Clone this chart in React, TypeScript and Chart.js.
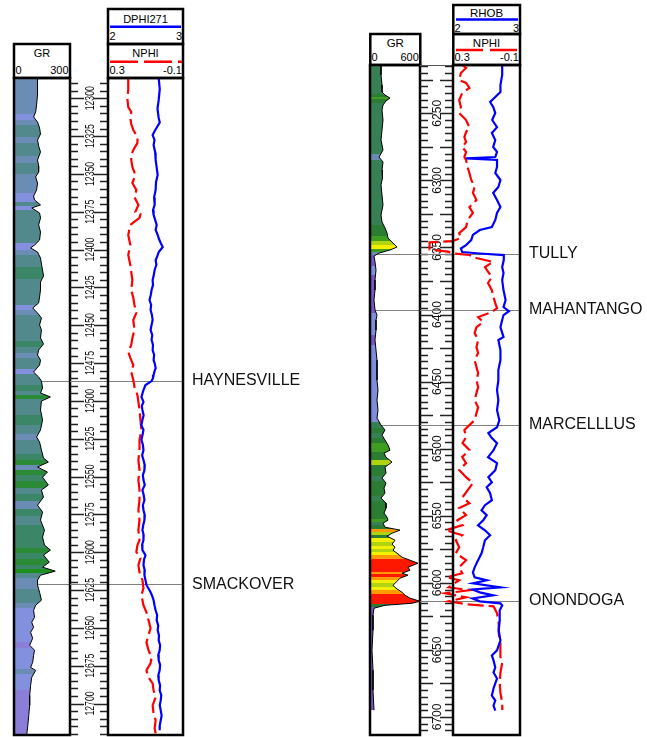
import React, { useEffect, useRef } from 'react';
import { Chart, registerables } from 'chart.js';

Chart.register(...registerables);

const FONT = '"Liberation Sans", Arial, Helvetica, sans-serif';

// ---------------- LEFT WELL DATA ----------------
const L_GR_DEPTH = [
  12286.6, 12297.8, 12304.4, 12309.0, 12312.4, 12315.7, 12319.6, 12323.6, 12327.6, 12331.5,
  12335.5, 12340.8, 12344.7, 12348.7, 12352.0, 12356.0, 12360.6, 12364.6, 12367.2, 12370.5,
  12372.5, 12375.8, 12379.1, 12383.7, 12388.4, 12393.7, 12397.0, 12398.9, 12401.6, 12405.6,
  12409.5, 12413.5, 12417.5, 12421.4, 12426.7, 12431.3, 12435.3, 12438.6, 12441.9, 12445.2,
  12449.8, 12453.1, 12458.4, 12462.4, 12466.4, 12469.7, 12473.0, 12476.3, 12480.9, 12484.2,
  12486.9, 12491.5, 12494.8, 12497.4, 12500.1, 12506.0, 12512.6, 12519.2, 12523.9, 12527.2,
  12532.5, 12537.8, 12540.4, 12543.7, 12547.0, 12550.4, 12555.6, 12558.9, 12563.6, 12568.9,
  12573.5, 12578.8, 12585.4, 12590.0, 12595.3, 12598.6, 12601.9, 12606.6, 12609.9, 12612.5,
  12615.2, 12618.5, 12621.8, 12626.5, 12631.7, 12635.0, 12638.4, 12643.0, 12646.3, 12649.6,
  12652.9, 12656.9, 12661.5, 12664.8, 12668.1, 12672.8, 12676.1, 12678.1, 12682.7, 12688.0,
  12694.6, 12701.2, 12707.8, 12714.4, 12720.8,
];
const L_GR = [
  126, 126, 121, 116, 105, 126, 137, 142, 126, 132,
  142, 126, 132, 132, 116, 126, 121, 105, 110, 142,
  95, 137, 142, 132, 142, 137, 110, 89, 126, 142,
  147, 153, 158, 142, 142, 137, 132, 100, 126, 147,
  137, 147, 142, 158, 132, 126, 142, 137, 105, 132,
  147, 153, 142, 195, 147, 142, 153, 142, 121, 137,
  147, 158, 184, 126, 179, 153, 184, 147, 158, 126,
  153, 142, 163, 153, 163, 195, 158, 189, 153, 221,
  142, 126, 126, 137, 147, 116, 105, 110, 95, 105,
  89, 100, 84, 110, 105, 100, 89, 116, 95, 89,
  84, 84, 79, 74, 68,
];

const L_DPHI_DEPTH = [
  12286.6, 12294.0, 12301.1, 12307.0, 12313.0, 12316.0, 12318.3, 12321.0, 12324.3, 12327.5,
  12330.9, 12336.0, 12340.8, 12346.0, 12350.7, 12355.5, 12360.6, 12365.5, 12370.5, 12374.0,
  12377.1, 12380.5, 12383.7, 12387.0, 12390.3, 12393.0, 12395.6, 12398.3, 12401.6, 12404.0,
  12406.9, 12410.0, 12413.5, 12417.0, 12420.1, 12423.5, 12426.7, 12430.0, 12433.3, 12436.5,
  12439.9, 12443.0, 12446.5, 12450.0, 12453.1, 12456.5, 12459.7, 12463.0, 12466.4, 12469.5,
  12473.0, 12475.5, 12478.3, 12480.5, 12482.9, 12485.0, 12486.9, 12489.5, 12492.8, 12495.0,
  12497.4, 12500.7, 12503.5, 12506.0, 12509.5, 12512.6, 12516.0, 12519.2, 12522.5, 12525.8,
  12529.0, 12532.5, 12536.0, 12539.1, 12542.5, 12545.7, 12549.0, 12552.3, 12555.5, 12558.9,
  12562.0, 12565.5, 12569.0, 12572.1, 12575.5, 12578.8, 12582.0, 12585.4, 12588.5, 12592.0,
  12595.0, 12598.6, 12601.9, 12605.0, 12608.5, 12612.0, 12615.2, 12618.5, 12621.8, 12624.0,
  12626.5, 12629.0, 12631.7, 12635.0, 12638.4, 12641.5, 12645.0, 12648.5, 12651.6, 12655.0,
  12658.2, 12661.5, 12664.8, 12668.0, 12671.4, 12674.5, 12678.1, 12681.5, 12684.7, 12688.0,
  12691.3, 12694.5, 12697.9, 12701.0, 12704.5, 12708.0, 12711.1, 12714.5, 12717.7,
];
const L_DPHI = [
  2.676, 2.69, 2.676, 2.66, 2.676, 2.69, 2.662, 2.63, 2.595, 2.62,
  2.608, 2.63, 2.635, 2.65, 2.662, 2.64, 2.635, 2.615, 2.622, 2.6,
  2.608, 2.63, 2.649, 2.635, 2.662, 2.68, 2.703, 2.73, 2.676, 2.66,
  2.635, 2.645, 2.622, 2.61, 2.595, 2.6, 2.581, 2.57, 2.554, 2.575,
  2.568, 2.585, 2.595, 2.58, 2.568, 2.59, 2.581, 2.6, 2.595, 2.615,
  2.608, 2.625, 2.635, 2.62, 2.608, 2.6, 2.581, 2.5, 2.473, 2.46,
  2.446, 2.473, 2.45, 2.459, 2.475, 2.459, 2.445, 2.473, 2.46, 2.446,
  2.465, 2.473, 2.455, 2.473, 2.49, 2.486, 2.465, 2.473, 2.49, 2.459,
  2.475, 2.486, 2.465, 2.473, 2.49, 2.486, 2.47, 2.459, 2.475, 2.473,
  2.455, 2.459, 2.5, 2.48, 2.473, 2.49, 2.486, 2.5, 2.514, 2.54,
  2.568, 2.59, 2.608, 2.62, 2.635, 2.655, 2.649, 2.67, 2.662, 2.68,
  2.676, 2.695, 2.689, 2.67, 2.676, 2.695, 2.689, 2.67, 2.676, 2.695,
  2.689, 2.71, 2.703, 2.69, 2.703, 2.715, 2.703, 2.69, 2.689,
];

const L_NPHI_DEPTH = [
  12286.6, 12294.5, 12299.8, 12305.8, 12309.1, 12313.0, 12317.0, 12321.0, 12325.6, 12329.5,
  12334.2, 12337.5, 12340.8, 12345.4, 12350.7, 12356.0, 12360.6, 12365.2, 12370.5, 12375.1,
  12376.5, 12379.1, 12383.7, 12390.3, 12397.0, 12403.6, 12410.2, 12414.8, 12420.1, 12426.7,
  12432.0, 12436.6, 12441.9, 12446.5, 12453.1, 12458.4, 12463.0, 12467.6, 12471.6, 12476.3,
  12480.9, 12486.2, 12490.8, 12496.1, 12500.7, 12506.0, 12512.6, 12519.2, 12525.8, 12532.5,
  12539.1, 12545.7, 12552.3, 12558.9, 12565.5, 12572.1, 12578.8, 12585.4, 12592.0, 12595.3,
  12599.9, 12603.9, 12608.5, 12613.2, 12618.5, 12623.8, 12628.4, 12631.7, 12635.0, 12639.7,
  12645.0, 12650.3, 12654.9, 12659.6, 12664.8, 12669.5, 12673.4, 12678.1, 12682.7, 12686.7,
  12691.3, 12695.9, 12701.2, 12706.5, 12711.1, 12716.4, 12719.7,
];
const L_NPHI = [
  0.192, 0.192, 0.197, 0.192, 0.176, 0.181, 0.176, 0.165, 0.143, 0.143,
  0.165, 0.176, 0.176, 0.17, 0.154, 0.17, 0.149, 0.159, 0.138, 0.154,
  0.127, 0.132, 0.181, 0.192, 0.181, 0.192, 0.181, 0.176, 0.17, 0.176,
  0.165, 0.159, 0.149, 0.165, 0.159, 0.17, 0.176, 0.192, 0.181, 0.165,
  0.176, 0.165, 0.159, 0.143, 0.138, 0.132, 0.127, 0.122, 0.132, 0.132,
  0.138, 0.132, 0.138, 0.132, 0.132, 0.138, 0.132, 0.138, 0.132, 0.143,
  0.149, 0.127, 0.138, 0.132, 0.116, 0.111, 0.122, 0.116, 0.111, 0.095,
  0.084, 0.073, 0.084, 0.095, 0.084, 0.068, 0.073, 0.095, 0.084, 0.062,
  0.057, 0.046, 0.062, 0.057, 0.046, 0.051, 0.046,
];

const L_DEPTH_LABELS = [12300, 12325, 12350, 12375, 12400, 12425, 12450, 12475, 12500, 12525, 12550, 12575, 12600, 12625, 12650, 12675, 12700];
const L_TOP_NAMES = ['HAYNESVILLE', 'SMACKOVER'];
const L_TOP_DEPTHS = [12486.9, 12621.2];

// ---------------- RIGHT WELL DATA ----------------
const R_GR_DEPTH = [
  6214.0, 6221.4, 6228.9, 6234.1, 6236.4, 6238.6, 6240.8, 6243.8, 6247.5, 6255.0,
  6262.4, 6269.9, 6277.4, 6282.6, 6286.3, 6292.3, 6298.2, 6303.4, 6310.9, 6318.4,
  6325.8, 6331.0, 6335.5, 6339.2, 6343.0, 6346.7, 6349.7, 6351.9, 6354.2, 6356.4,
  6360.8, 6366.8, 6374.2, 6381.7, 6389.2, 6396.6, 6400.4, 6404.1, 6411.6, 6419.0,
  6426.5, 6434.0, 6441.4, 6448.9, 6456.3, 6463.8, 6471.3, 6477.2, 6482.4, 6486.1,
  6489.9, 6493.6, 6497.3, 6501.1, 6503.3, 6506.3, 6510.0, 6513.7, 6518.2, 6521.9,
  6525.6, 6529.4, 6533.1, 6536.8, 6540.6, 6544.3, 6548.0, 6551.0, 6553.3, 6555.5,
  6558.5, 6560.7, 6563.0, 6565.2, 6568.2, 6571.2, 6573.4, 6575.7, 6577.9, 6580.9,
  6583.1, 6585.4, 6588.3, 6590.6, 6592.8, 6594.3, 6596.5, 6598.8, 6601.8, 6604.0,
  6607.0, 6609.2, 6611.4, 6613.7, 6615.2, 6616.7, 6618.9, 6624.1, 6635.3, 6650.2,
  6665.1, 6680.0, 6694.9,
];
const R_GR = [
  132, 132, 144, 144, 180, 240, 192, 156, 144, 156,
  144, 132, 156, 108, 156, 144, 150, 132, 144, 156,
  132, 144, 180, 204, 216, 276, 324, 240, 108, 48,
  60, 72, 60, 60, 48, 60, 84, 72, 72, 60,
  72, 84, 84, 84, 96, 84, 96, 84, 132, 180,
  144, 180, 216, 240, 168, 192, 264, 180, 192, 144,
  192, 168, 180, 132, 192, 192, 168, 204, 216, 156,
  180, 360, 264, 204, 300, 264, 300, 276, 324, 384,
  480, 576, 456, 480, 384, 456, 360, 324, 276, 312,
  384, 420, 480, 600, 504, 180, 48, 36, 36, 24,
  36, 36, 48,
];

const R_RHOB_DEPTH = [
  6214.0, 6221.4, 6228.9, 6234.1, 6237.8, 6241.6, 6245.3, 6249.8, 6255.0, 6260.3,
  6264.7, 6269.9, 6275.1, 6278.8, 6282.6, 6283.6, 6284.8, 6290.0, 6294.5, 6299.7,
  6304.9, 6309.4, 6314.6, 6319.9, 6324.3, 6329.5, 6334.8, 6337.0, 6340.7, 6344.5,
  6348.2, 6350.8, 6353.4, 6354.5, 6355.7, 6359.4, 6364.6, 6369.1, 6374.3, 6381.8,
  6389.2, 6394.5, 6397.5, 6400.4, 6404.1, 6409.4, 6416.8, 6419.0, 6426.5, 6434.0,
  6441.4, 6448.9, 6456.3, 6463.8, 6471.3, 6478.7, 6484.0, 6488.4, 6492.1, 6495.9,
  6501.1, 6506.3, 6510.8, 6516.0, 6521.2, 6525.0, 6528.7, 6533.2, 6538.4, 6542.1,
  6545.9, 6549.6, 6553.3, 6557.1, 6560.8, 6564.5, 6568.2, 6573.5, 6578.0, 6583.2,
  6588.4, 6592.2, 6595.9, 6598.1, 6600.4, 6603.4, 6604.9, 6607.1, 6609.3, 6611.6,
  6613.8, 6615.3, 6616.8, 6620.5, 6628.0, 6635.4, 6642.9, 6650.3, 6654.1, 6657.8,
  6663.1, 6666.8, 6671.3, 6675.0, 6678.7, 6684.0, 6687.7, 6691.4, 6695.2,
];
const R_RHOB = [
  2.734, 2.734, 2.708, 2.708, 2.631, 2.554, 2.6, 2.631, 2.585, 2.657,
  2.58, 2.631, 2.6, 2.657, 2.631, 2.195, 2.657, 2.657, 2.631, 2.708,
  2.677, 2.6, 2.657, 2.708, 2.657, 2.631, 2.58, 2.4, 2.297, 2.272,
  2.195, 2.118, 2.138, 2.4, 2.758, 2.758, 2.734, 2.754, 2.734, 2.754,
  2.785, 2.754, 2.835, 2.754, 2.734, 2.708, 2.754, 2.677, 2.708, 2.708,
  2.677, 2.677, 2.657, 2.677, 2.657, 2.692, 2.657, 2.528, 2.58, 2.657,
  2.605, 2.523, 2.657, 2.631, 2.528, 2.58, 2.503, 2.554, 2.58, 2.477,
  2.426, 2.503, 2.451, 2.374, 2.477, 2.554, 2.477, 2.451, 2.426, 2.374,
  2.323, 2.297, 2.323, 2.503, 2.297, 2.708, 2.292, 2.4, 2.6, 2.292,
  2.4, 2.708, 2.734, 2.697, 2.697, 2.682, 2.708, 2.657, 2.58, 2.605,
  2.631, 2.605, 2.657, 2.631, 2.605, 2.58, 2.631, 2.605, 2.631,
];

const R_NPHI_DEPTH = [
  6214.0, 6216.2, 6220.0, 6225.2, 6227.4, 6231.1, 6234.9, 6240.1, 6245.3, 6249.8,
  6255.0, 6257.3, 6260.3, 6264.0, 6267.7, 6271.5, 6275.1, 6278.8, 6282.6, 6284.8,
  6290.0, 6294.5, 6299.7, 6304.9, 6309.4, 6314.6, 6319.9, 6324.3, 6329.5, 6334.8,
  6339.3, 6343.0, 6345.2, 6346.2, 6351.6, 6353.1, 6354.5, 6355.6, 6357.9, 6360.8,
  6364.6, 6368.3, 6372.1, 6376.5, 6381.8, 6387.0, 6391.5, 6395.2, 6398.2, 6401.9,
  6405.6, 6409.4, 6413.8, 6419.0, 6424.3, 6428.7, 6434.0, 6439.0, 6443.7, 6448.9,
  6454.1, 6458.6, 6463.8, 6469.1, 6473.5, 6478.7, 6482.4, 6486.1, 6491.3, 6495.8,
  6501.0, 6506.2, 6510.7, 6515.9, 6521.2, 6525.6, 6530.9, 6536.1, 6540.6, 6544.3,
  6549.5, 6553.3, 6557.0, 6560.7, 6564.5, 6568.2, 6573.4, 6577.9, 6583.1, 6588.4,
  6592.8, 6595.8, 6598.0, 6603.3, 6605.5, 6607.8, 6610.8, 6613.7, 6616.0, 6617.5,
  6622.7, 6630.2, 6637.6, 6645.1, 6655.1, 6659.6, 6667.0, 6674.5, 6682.0, 6689.4,
  6694.7,
];
const R_NPHI = [
  0.245, 0.222, 0.253, 0.263, 0.222, 0.202, 0.245, 0.263, 0.253, 0.263,
  0.222, 0.214, 0.202, 0.222, 0.232, 0.222, 0.245, 0.222, 0.232, 0.222,
  0.214, 0.202, 0.191, 0.171, 0.181, 0.16, 0.202, 0.181, 0.212, 0.222,
  0.263, 0.253, 0.3, 0.44, 0.44, 0.33, 0.29, 0.202, 0.16, 0.06,
  0.109, 0.089, 0.068, 0.091, 0.068, 0.058, 0.048, 0.037, 0.068, 0.15,
  0.12, 0.16, 0.171, 0.15, 0.16, 0.15, 0.171, 0.16, 0.15, 0.16,
  0.15, 0.16, 0.171, 0.15, 0.16, 0.171, 0.202, 0.232, 0.222, 0.243,
  0.202, 0.245, 0.222, 0.263, 0.222, 0.181, 0.212, 0.243, 0.202, 0.263,
  0.222, 0.274, 0.243, 0.343, 0.245, 0.283, 0.263, 0.283, 0.222, 0.263,
  0.245, 0.337, 0.263, 0.325, 0.202, 0.345, 0.222, 0.325, 0.22, 0.058,
  0.037, 0.027, 0.027, 0.017, 0.017, 0.006, 0.017, 0.021, 0.017, 0.006,
  0.006,
];

const R_DEPTH_LABELS = [6250, 6300, 6350, 6400, 6450, 6500, 6550, 6600, 6650, 6700];
const R_TOP_NAMES = ['TULLY', 'MAHANTANGO', 'MARCELLLUS', 'ONONDOGA'];
const R_TOP_DEPTHS = [6354.9, 6396.6, 6482.3, 6613.5];

// ---------------- STYLES ----------------
const L_STOPS: [number, string][] = [
  [85, '#8a7ed8'], [115, '#8290de'], [132, '#6b8db4'], [150, '#52898c'],
  [170, '#3b8666'], [205, '#2b8a35'], [Infinity, '#1d8f1d'],
];
const R_STOPS: [number, string][] = [
  [62, '#7858c8'], [100, '#7d8ede'], [130, '#6a8cb0'], [165, '#377f55'],
  [215, '#2a7d32'], [250, '#3f9e22'], [290, '#b0d410'], [340, '#f4f000'],
  [400, '#ff9a00'], [Infinity, '#ff1800'],
];

const LEFT = {
  dMin: 12286.6, dMax: 12720.8,
  grDepth: L_GR_DEPTH, gr: L_GR, grMax: 300, stops: L_STOPS,
  aDepth: L_DPHI_DEPTH, a: L_DPHI, bDepth: L_NPHI_DEPTH, b: L_NPHI,
  labels: L_DEPTH_LABELS, minorStep: 5, majorStep: 25,
  depthFont: 13.5, squash: 0.64, minorLen: 8, majorLen: 14,
  topNames: L_TOP_NAMES, topDepths: L_TOP_DEPTHS, topLine: false,
  grCanvas: { left: 12, top: 76, width: 60, height: 661, pad: { left: 2, right: 2, top: 2, bottom: 2 } },
  logCanvas: { left: 70, top: 76, width: 260, height: 661, pad: { left: 38, right: 147, top: 2, bottom: 2 } },
};
const RIGHT = {
  dMin: 6214.0, dMax: 6713.4,
  grDepth: R_GR_DEPTH, gr: R_GR, grMax: 600, stops: R_STOPS,
  aDepth: R_RHOB_DEPTH, a: R_RHOB, bDepth: R_NPHI_DEPTH, b: R_NPHI,
  labels: R_DEPTH_LABELS, minorStep: 5, majorStep: 25,
  depthFont: 12, squash: 1, minorLen: 8, majorLen: 13,
  topNames: R_TOP_NAMES, topDepths: R_TOP_DEPTHS, topLine: true,
  grCanvas: { left: 368, top: 63, width: 54, height: 674, pad: { left: 2, right: 2, top: 2, bottom: 2 } },
  logCanvas: { left: 420, top: 63, width: 227, height: 674, pad: { left: 33, right: 127, top: 2, bottom: 2 } },
};

function colorFor(v: number, stops: [number, string][]) {
  for (const [lim, c] of stops) if (v < lim) return c;
  return stops[stops.length - 1][1];
}

function bandGradient(chart: any, depths: number[], values: number[], stops: [number, string][]) {
  const { ctx, chartArea, scales } = chart;
  if (!chartArea || !scales || !scales.y) return 'rgba(0,0,0,0)';
  const ys = scales.y;
  const top = chartArea.top;
  const h = chartArea.bottom - chartArea.top;
  const g = ctx.createLinearGradient(0, top, 0, chartArea.bottom);
  const off = (d: number) => Math.min(1, Math.max(0, (ys.getPixelForValue(d) - top) / h));
  const n = depths.length;
  let last = 0;
  for (let i = 0; i < n; i++) {
    const d0 = i === 0 ? depths[0] : (depths[i - 1] + depths[i]) / 2;
    const d1 = i === n - 1 ? depths[n - 1] : (depths[i] + depths[i + 1]) / 2;
    const c = colorFor(values[i], stops);
    const o0 = Math.max(last, off(d0));
    const o1 = Math.max(o0, off(d1));
    g.addColorStop(o0, c);
    g.addColorStop(o1, c);
    last = o1;
  }
  return g;
}

function drawBorder(chart: any) {
  const { ctx, chartArea: a } = chart;
  ctx.save();
  ctx.strokeStyle = '#000';
  ctx.lineWidth = 2.5;
  ctx.strokeRect(a.left, a.top, a.right - a.left, a.bottom - a.top);
  ctx.restore();
}

function grPlugin(w: any) {
  return {
    id: 'grTrack',
    beforeDatasetsDraw(chart: any) {
      const { ctx, chartArea: a, scales } = chart;
      ctx.save();
      ctx.strokeStyle = '#808080';
      ctx.lineWidth = 1;
      w.topDepths.forEach((d: number) => {
        const y = Math.round(scales.y.getPixelForValue(d)) + 0.5;
        ctx.beginPath();
        ctx.moveTo(a.left, y);
        ctx.lineTo(a.right, y);
        ctx.stroke();
      });
      ctx.restore();
    },
    afterDatasetsDraw(chart: any) {
      drawBorder(chart);
    },
  };
}

function logPlugin(w: any) {
  return {
    id: 'logTrack',
    beforeDatasetsDraw(chart: any) {
      const { ctx, chartArea: a, scales } = chart;
      const ys = scales.y;
      const x0 = 0;
      const x1 = a.left;
      ctx.save();
      ctx.strokeStyle = '#222';
      ctx.lineWidth = 1.4;
      const start = Math.ceil(w.dMin / w.minorStep) * w.minorStep;
      for (let d = start; d <= w.dMax; d += w.minorStep) {
        const y = Math.round(ys.getPixelForValue(d)) + 0.5;
        const major = d % w.majorStep === 0;
        const len = major ? w.majorLen : w.minorLen;
        ctx.beginPath();
        ctx.moveTo(x0, y);
        ctx.lineTo(x0 + len, y);
        ctx.moveTo(x1 - len, y);
        ctx.lineTo(x1, y);
        ctx.stroke();
      }
      if (w.topLine) {
        ctx.strokeStyle = '#555';
        ctx.lineWidth = 1;
        ctx.beginPath();
        ctx.moveTo(x0, a.top + 0.5);
        ctx.lineTo(x1, a.top + 0.5);
        ctx.stroke();
      }
      ctx.fillStyle = '#111';
      ctx.font = `${w.depthFont}px ${FONT}`;
      ctx.textAlign = 'center';
      ctx.textBaseline = 'middle';
      w.labels.forEach((d: number) => {
        const y = ys.getPixelForValue(d);
        ctx.save();
        ctx.translate((x0 + x1) / 2 + 1, y);
        ctx.rotate(-Math.PI / 2);
        ctx.scale(w.squash, 1);
        ctx.fillText(String(d), 0, 0);
        ctx.restore();
      });
      ctx.strokeStyle = '#808080';
      ctx.lineWidth = 1;
      w.topDepths.forEach((d: number) => {
        const y = Math.round(ys.getPixelForValue(d)) + 0.5;
        ctx.beginPath();
        ctx.moveTo(x0, y);
        ctx.lineTo(a.right, y);
        ctx.stroke();
      });
      ctx.restore();
    },
    afterDatasetsDraw(chart: any) {
      const { ctx, chartArea: a, scales } = chart;
      drawBorder(chart);
      ctx.save();
      ctx.fillStyle = '#111';
      ctx.font = `16px ${FONT}`;
      ctx.textAlign = 'left';
      ctx.textBaseline = 'middle';
      w.topNames.forEach((name: string, i: number) => {
        const y = scales.y.getPixelForValue(w.topDepths[i]);
        ctx.fillText(name, a.right + 9, y);
      });
      ctx.restore();
    },
  };
}

function yScale(w: any) {
  return { type: 'linear', min: w.dMin, max: w.dMax, reverse: true, display: false };
}

function grConfig(w: any) {
  return {
    type: 'line',
    data: {
      datasets: [
        {
          data: w.grDepth.map((d: number, i: number) => ({ x: w.gr[i], y: d })),
          borderColor: '#000',
          borderWidth: 1,
          pointRadius: 0,
          tension: 0,
          fill: 'origin',
          backgroundColor: (c: any) => bandGradient(c.chart, w.grDepth, w.gr, w.stops),
        },
      ],
    },
    options: {
      indexAxis: 'y',
      animation: false,
      responsive: false,
      events: [],
      layout: { padding: w.grCanvas.pad },
      scales: {
        x: { type: 'linear', min: 0, max: w.grMax, display: false },
        y: yScale(w),
      },
      plugins: { legend: { display: false }, tooltip: { enabled: false } },
    },
    plugins: [grPlugin(w)],
  };
}

function logConfig(w: any) {
  return {
    type: 'line',
    data: {
      datasets: [
        {
          data: w.aDepth.map((d: number, i: number) => ({ x: w.a[i], y: d })),
          xAxisID: 'xa',
          yAxisID: 'y',
          borderColor: '#0000ff',
          borderWidth: 2.2,
          pointRadius: 0,
          tension: 0,
          fill: false,
        },
        {
          data: w.bDepth.map((d: number, i: number) => ({ x: w.b[i], y: d })),
          xAxisID: 'xb',
          yAxisID: 'y',
          borderColor: '#ff0000',
          borderWidth: 2.2,
          borderDash: [16, 5],
          pointRadius: 0,
          tension: 0,
          fill: false,
          clip: false,
        },
      ],
    },
    options: {
      indexAxis: 'y',
      animation: false,
      responsive: false,
      events: [],
      layout: { padding: w.logCanvas.pad },
      scales: {
        xa: { type: 'linear', axis: 'x', min: 2, max: 3, display: false },
        xb: { type: 'linear', axis: 'x', min: -0.1, max: 0.3, reverse: true, display: false },
        y: yScale(w),
      },
      plugins: { legend: { display: false }, tooltip: { enabled: false } },
    },
    plugins: [logPlugin(w)],
  };
}

function ChartCanvas({ box, make }: { box: any; make: () => any }) {
  const ref = useRef<HTMLCanvasElement>(null);
  useEffect(() => {
    const chart = new Chart(ref.current as HTMLCanvasElement, make());
    return () => chart.destroy();
  }, []);
  return (
    <canvas
      ref={ref}
      width={box.width}
      height={box.height}
      style={{ position: 'absolute', left: box.left, top: box.top, width: box.width, height: box.height }}
    />
  );
}

function T({ x, y, s, a = 'middle', size = 11 }: { x: number; y: number; s: string; a?: string; size?: number }) {
  return (
    <text x={x} y={y} textAnchor={a as any} fontSize={size} fontFamily={FONT} fill="#000">
      {s}
    </text>
  );
}

function Headers() {
  const box = { fill: 'none', stroke: '#000', strokeWidth: 2.5 };
  return (
    <svg width={647} height={737} style={{ position: 'absolute', left: 0, top: 0 }}>
      <rect x={14} y={44} width={56} height={34} {...box} />
      <T x={42} y={56.5} s="GR" />
      <T x={15.5} y={73.5} s="0" a="start" />
      <T x={68.5} y={73.5} s="300" a="end" />
      <rect x={108} y={9} width={75} height={35} {...box} />
      <T x={145.5} y={22.5} s="DPHI271" />
      <line x1={110} y1={26.7} x2={181} y2={26.7} stroke="#0000ff" strokeWidth={2.5} />
      <T x={109.5} y={40} s="2" a="start" />
      <T x={182} y={40} s="3" a="end" />
      <rect x={108} y={44} width={75} height={34} {...box} />
      <T x={145.5} y={56.5} s="NPHI" />
      <line x1={110} y1={61.7} x2={182} y2={61.7} stroke="#ff0000" strokeWidth={2.5} strokeDasharray="28 6" />
      <T x={109.5} y={73.5} s="0.3" a="start" />
      <T x={182} y={73.5} s="-0.1" a="end" />
      <rect x={370.3} y={34} width={50} height={31} {...box} />
      <T x={395.3} y={46.5} s="GR" size={11.5} />
      <T x={371.5} y={60.5} s="0" a="start" size={11} />
      <T x={418.8} y={60.5} s="600" a="end" size={11} />
      <rect x={453.3} y={5} width={66.7} height={29} {...box} />
      <T x={486.6} y={16.5} s="RHOB" size={11.5} />
      <line x1={456} y1={19.5} x2={518} y2={19.5} stroke="#0000ff" strokeWidth={2.5} />
      <T x={454.5} y={31.5} s="2" a="start" />
      <T x={519} y={31.5} s="3" a="end" />
      <rect x={453.3} y={34} width={66.7} height={31} {...box} />
      <T x={486.6} y={46.5} s="NPHI" size={11.5} />
      <line x1={456} y1={50} x2={519} y2={50} stroke="#ff0000" strokeWidth={2.5} strokeDasharray="27 7" />
      <T x={454.5} y={60.5} s="0.3" a="start" />
      <T x={519} y={60.5} s="-0.1" a="end" />
    </svg>
  );
}

export default function App() {
  return (
    <div
      style={{
        position: 'absolute', left: 0, top: 0, width: 647, height: 737,
        background: '#fff', overflow: 'hidden', fontFamily: FONT,
      }}
    >
      <Headers />
      <ChartCanvas box={LEFT.grCanvas} make={() => grConfig(LEFT)} />
      <ChartCanvas box={LEFT.logCanvas} make={() => logConfig(LEFT)} />
      <ChartCanvas box={RIGHT.grCanvas} make={() => grConfig(RIGHT)} />
      <ChartCanvas box={RIGHT.logCanvas} make={() => logConfig(RIGHT)} />
    </div>
  );
}
